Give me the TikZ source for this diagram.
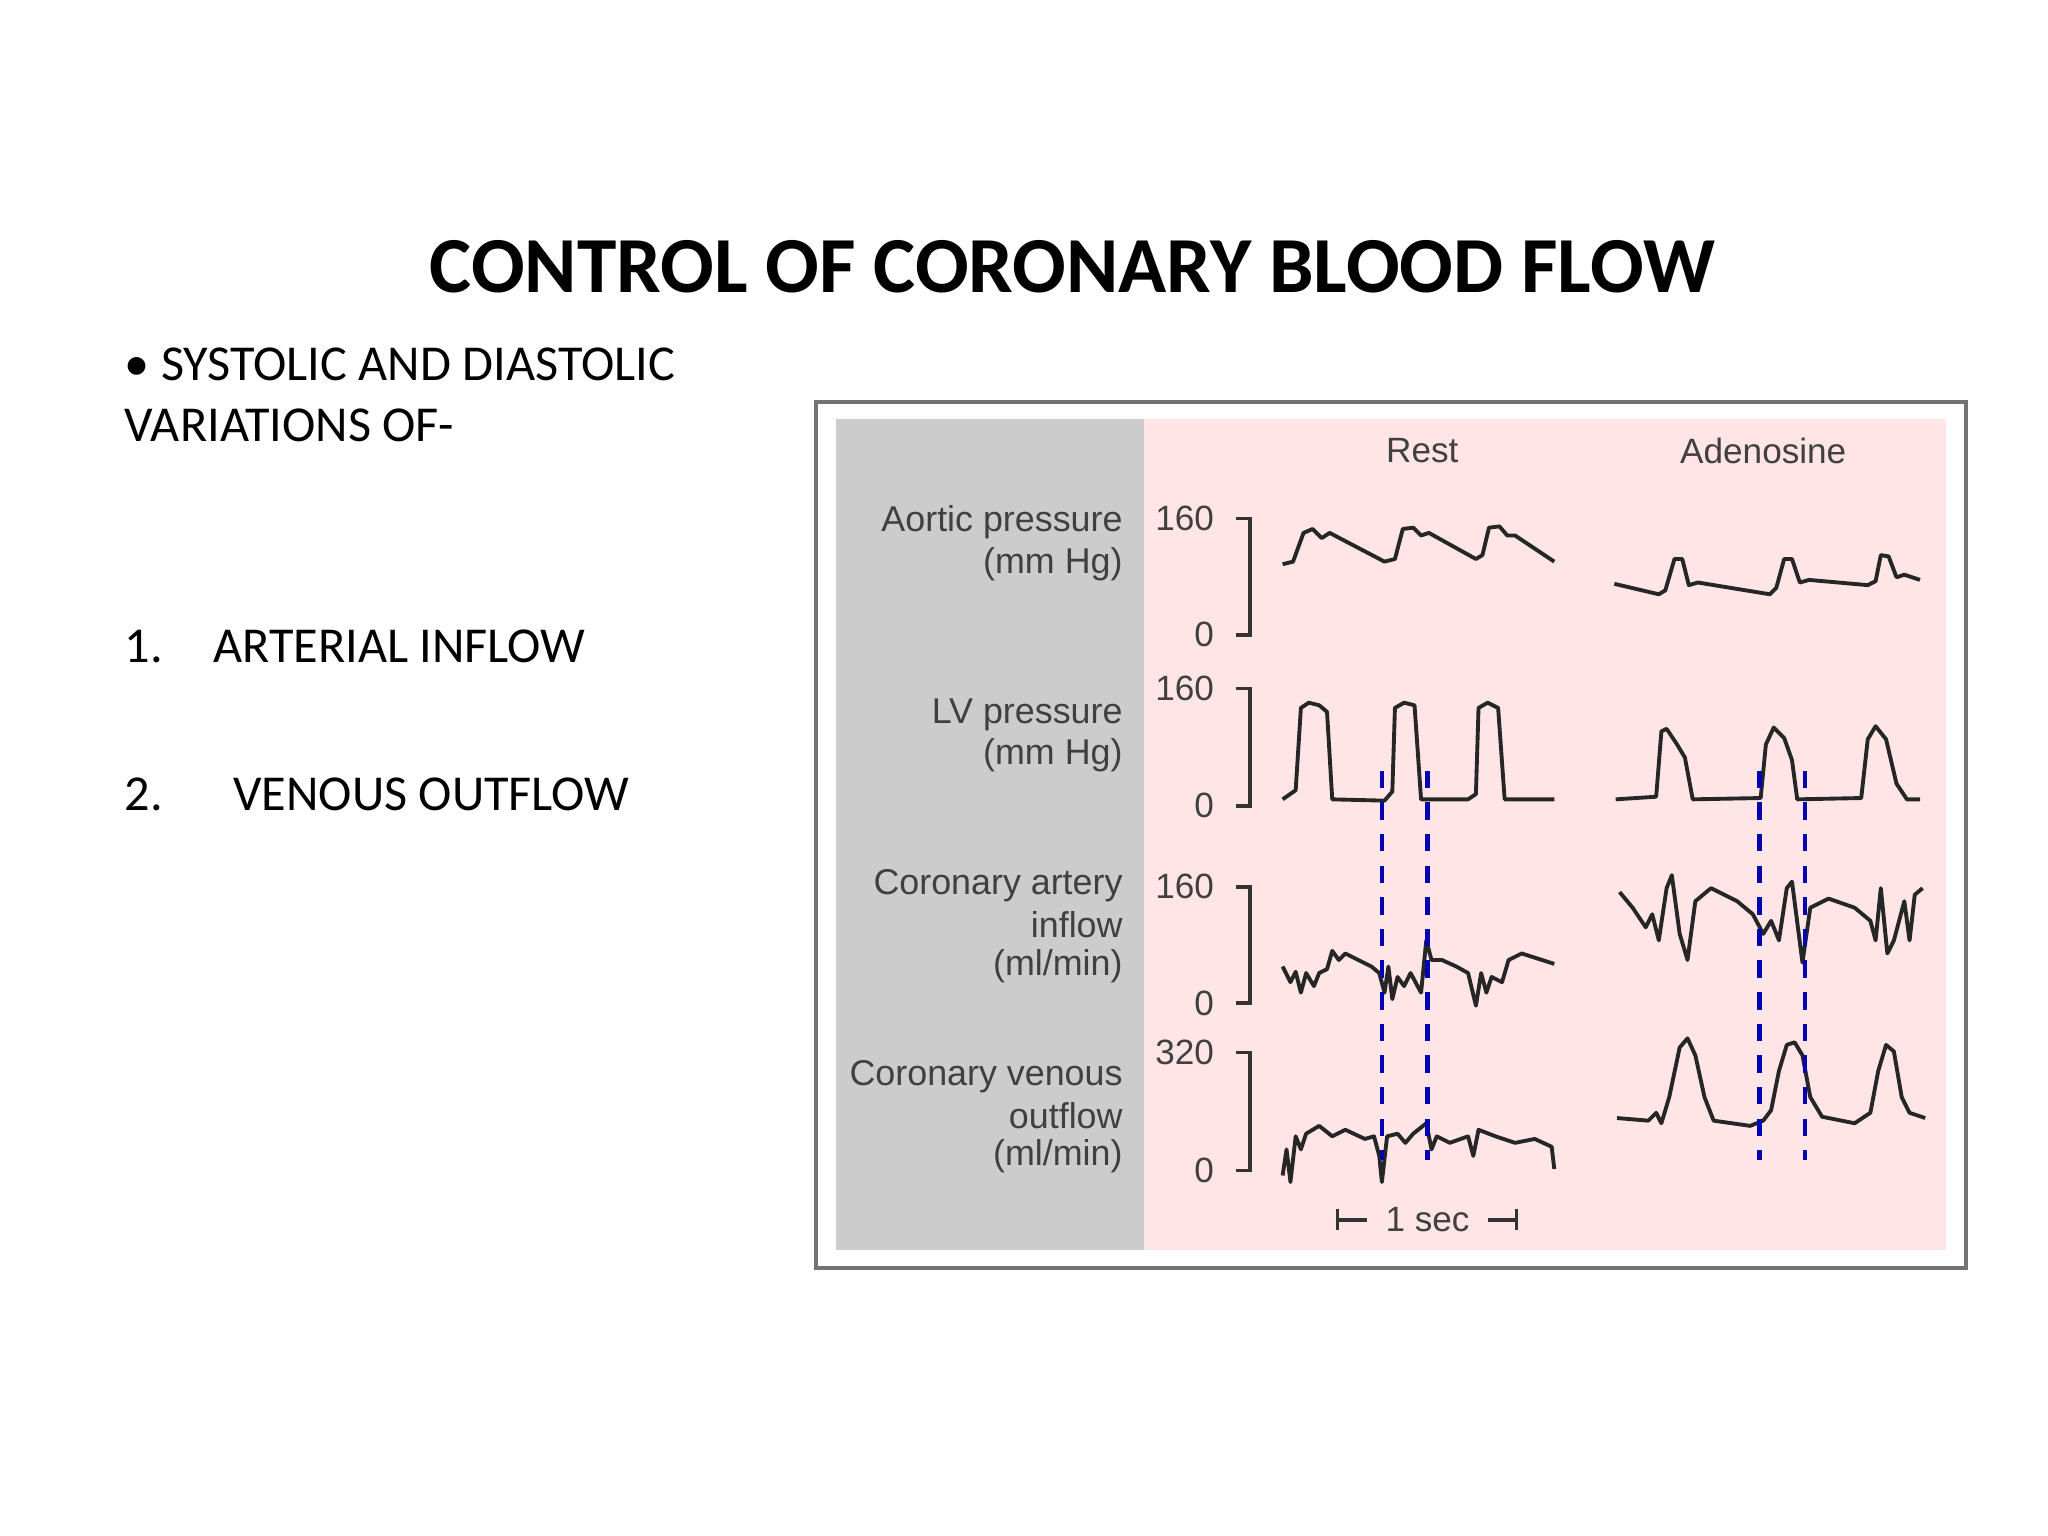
\documentclass[tikz,border=0pt]{standalone}
\usepackage{fontspec}
\setmainfont{Carlito}
\newfontfamily\arialf{Liberation Sans}
\begin{document}
\begin{tikzpicture}[x=0.013061cm,y=-0.013061cm,
  lab/.style={font=\arialf\fontsize{10.2}{12}\selectfont,text=black!75,anchor=east,inner sep=0pt},
  num/.style={font=\arialf\fontsize{10}{12}\selectfont,text=black!75,inner sep=0pt},
  trace/.style={line width=1.1pt,line join=round,black!85},
  vdash/.style={blue!70!black,dashed,line width=1.3pt,dash pattern=on 5pt off 4pt},
  brk/.style={line width=1pt,black!80},
  body/.style={font=\fontsize{14.3}{16}\selectfont,anchor=west,inner sep=0pt}]
\useasboundingbox (0,0) rectangle (1568,1176);
\node[font=\bfseries\fontsize{22.6}{26}\selectfont] (title) at (821,204) {CONTROL OF CORONARY BLOOD FLOW};
\node[body] (b1) at (95,279) {\textbullet\ SYSTOLIC AND DIASTOLIC};
\node[body] (b2) at (95,326) {VARIATIONS OF-};
\node[body] (l1) at (95,495) {1.\hspace{1.0em}ARTERIAL INFLOW};
\node[body] (l2) at (95,608) {2.\hspace{1.4em}VENOUS OUTFLOW};
% panel
\draw[black!55,line width=1.2pt] (625,308) rectangle (1505,971);
\fill[black!20] (640,321) rectangle (876,957);
\fill[red!50!white!20] (876,321) rectangle (1490,957);
\node[num] (rest) at (1089,345) {Rest};
\node[num] (aden) at (1350,345) {Adenosine};
\node[lab] (a1) at (860,400) {Aortic pressure};
\node[lab] (a2) at (860,432) {(mm Hg)};
\node[lab] (v1) at (860,547) {LV pressure};
\node[lab] (v2) at (860,578) {(mm Hg)};
\node[lab] (c1) at (860,678) {Coronary artery};
\node[lab] (c2) at (860,708) {inflow};
\node[lab] (c3) at (860,740) {(ml/min)};
\node[lab] (o1) at (860,824) {Coronary venous};
\node[lab] (o2) at (860,854) {outflow};
\node[lab] (o3) at (860,885) {(ml/min)};
% scales
\foreach \t/\b/\tl in {397/486/160,527/617/160,679/768/160,806/896/320}{
  \node[num,anchor=east] at (930,\t) {\tl};
  \node[num,anchor=east] at (930,\b) {0};
  \draw[brk] (946,\t) -- (957,\t) -- (957,\b) -- (946,\b);
}
% traces
\draw[trace] plot coordinates {(982,432)(990,430)(998,408)(1005,405)(1012,412)(1018,408)(1060,430)(1068,428)(1074,405)(1082,404)(1088,410)(1094,408)(1130,428)(1135,425)(1140,404)(1148,403)(1154,410)(1160,410)(1190,430)};
\draw[trace] plot coordinates {(1236,447)(1270,455)(1275,452)(1282,428)(1288,428)(1293,448)(1300,446)(1355,455)(1360,450)(1366,428)(1372,428)(1378,446)(1385,444)(1430,448)(1436,445)(1440,425)(1446,426)(1452,442)(1458,440)(1470,444)};
\draw[trace] plot coordinates {(982,612)(992,605)(996,542)(1002,538)(1010,540)(1016,545)(1020,612)(1060,613)(1066,606)(1068,542)(1075,538)(1083,540)(1088,612)(1124,612)(1130,608)(1132,542)(1139,538)(1147,542)(1152,612)(1190,612)};
\draw[trace] plot coordinates {(1237,612)(1268,610)(1272,560)(1276,558)(1284,570)(1290,580)(1296,612)(1348,611)(1352,570)(1358,557)(1366,565)(1372,582)(1376,612)(1425,611)(1430,566)(1436,556)(1444,566)(1452,600)(1460,612)(1470,612)};
\draw[trace] plot coordinates {(982,740)(988,752)(992,744)(996,760)(1000,745)(1006,755)(1010,745)(1016,742)(1020,728)(1025,735)(1030,730)(1040,735)(1050,740)(1056,745)(1060,760)(1063,740)(1066,765)(1070,748)(1075,755)(1080,745)(1088,760)(1092,720)(1096,735)(1104,735)(1115,740)(1124,745)(1130,770)(1134,745)(1138,760)(1142,748)(1150,752)(1155,735)(1165,730)(1190,738)};
\draw[trace] plot coordinates {(1240,683)(1250,695)(1260,710)(1265,700)(1270,720)(1276,680)(1280,670)(1286,715)(1292,735)(1298,690)(1310,680)(1330,690)(1342,700)(1350,715)(1356,705)(1362,720)(1368,680)(1372,675)(1380,737)(1386,695)(1400,688)(1420,695)(1432,705)(1436,720)(1440,680)(1445,730)(1450,720)(1458,690)(1462,720)(1466,685)(1472,680)};
\draw[trace] plot coordinates {(982,900)(985,880)(988,905)(992,870)(996,880)(1000,868)(1010,862)(1020,870)(1030,865)(1045,872)(1052,870)(1056,885)(1058,905)(1062,870)(1070,868)(1076,875)(1082,868)(1092,860)(1096,880)(1100,870)(1110,875)(1124,870)(1128,885)(1132,865)(1145,870)(1160,875)(1175,872)(1188,878)(1190,895)};
\draw[trace] plot coordinates {(1238,856)(1262,858)(1268,852)(1272,860)(1278,840)(1286,802)(1292,795)(1298,808)(1305,840)(1312,858)(1340,862)(1350,858)(1356,850)(1362,820)(1368,800)(1374,798)(1380,808)(1386,840)(1395,855)(1420,860)(1432,852)(1438,820)(1444,800)(1450,805)(1456,840)(1462,852)(1474,856)};
% dashed
\foreach \x in {1058,1093,1347,1382}{\draw[vdash] (\x,590) -- (\x,888);}
% 1 sec
\node[num,inner xsep=5pt] (sec) at (1093,934) {1 sec};
\coordinate (sl) at (1024,934); \coordinate (sr) at (1161,934);
\draw[brk] (sl) -- (sec.west);
\draw[brk] (sec.east) -- (sr);
\draw[brk] (1024,926) -- (1024,942);
\draw[brk] (1161,926) -- (1161,942);
\end{tikzpicture}
\end{document}
